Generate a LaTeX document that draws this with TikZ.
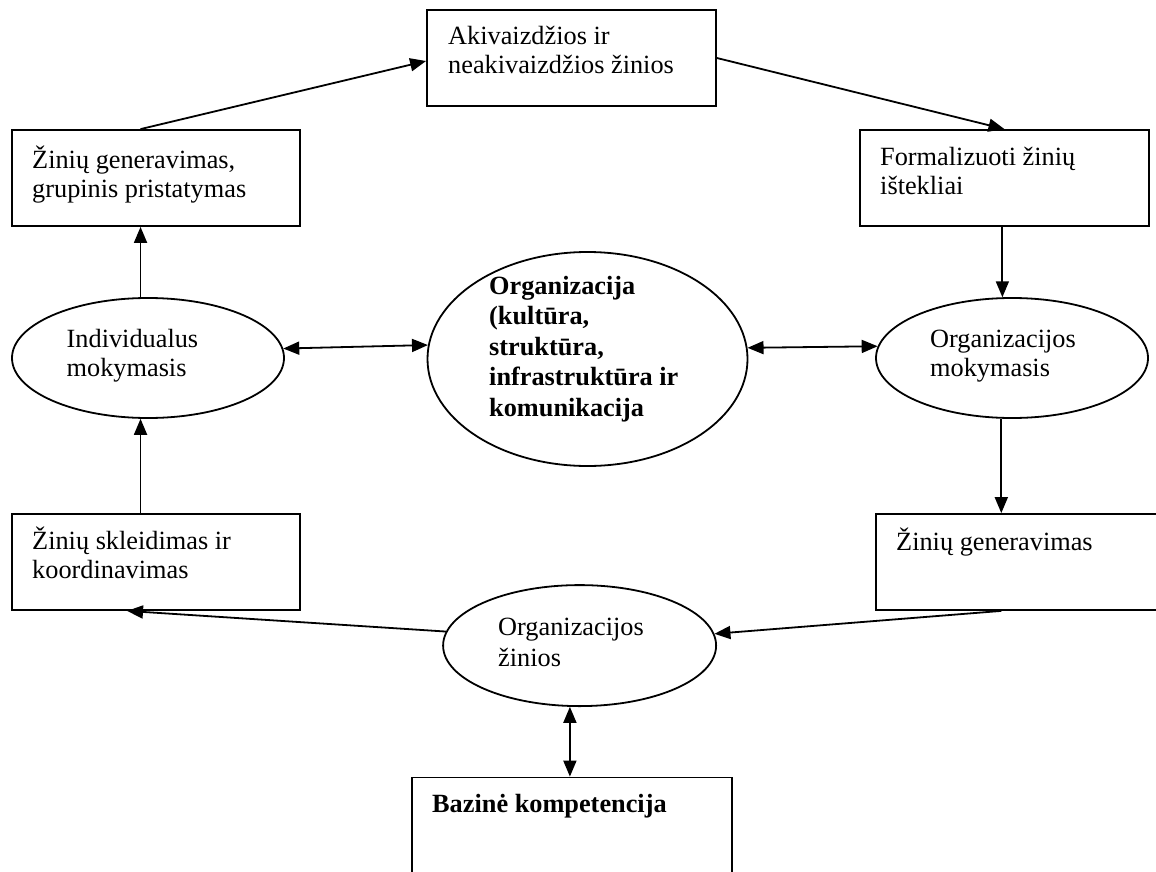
\documentclass[tikz,border=0pt]{standalone}
\usepackage{fontspec}
\setmainfont{Liberation Serif}
\usetikzlibrary{arrows.meta,shapes.geometric,calc}

\tikzset{
  box/.style={draw, line width=1.8pt, rectangle, inner sep=0pt},
  oval/.style={draw, line width=1.8pt, ellipse, inner sep=0pt},
  txt/.style={anchor=base west, inner sep=0pt, font=\fontsize{26.3}{30}\selectfont},
  btxt/.style={txt, font=\fontsize{26.3}{30}\selectfont\bfseries},
  link/.style={line width=1.8pt, -{Triangle[length=16pt,width=13pt]}},
  dlink/.style={line width=1.8pt, {Triangle[length=16pt,width=13pt]}-{Triangle[length=16pt,width=13pt]}}
}

\begin{document}
\begin{tikzpicture}[x=1pt,y=-1pt]
\clip (0,0) rectangle (1156,872);
\fill[white] (0,0) rectangle (1156,872);

% rectangles
\node[box, minimum width=289pt, minimum height=96pt] (tb) at (571.5,58) {};
\node[box, minimum width=288pt, minimum height=96pt] (lt) at (156,178) {};
\node[box, minimum width=289pt, minimum height=96pt] (rt) at (1004.5,178) {};
\node[box, minimum width=288pt, minimum height=96pt] (lb) at (156,562) {};
\node[box, minimum width=289pt, minimum height=96pt] (rb) at (1020.5,562) {};
\node[box, minimum width=320pt, minimum height=140pt] (bx) at (571.7,847.5) {};

% ellipses
\node[oval, minimum width=272pt, minimum height=120pt] (le) at (148,358) {};
\node[oval, minimum width=272pt, minimum height=120pt] (re) at (1012,358) {};
\node[oval, minimum width=320pt, minimum height=214pt] (ce) at (587.5,359) {};
\node[oval, minimum width=273pt, minimum height=121pt] (be) at (579.6,645.6) {};

% texts
\node[txt] (tb1) at (448,45) {Akivaizdžios ir};
\node[txt] (tb2) at (448,74) {neakivaizdžios žinios};
\node[txt] (lt1) at (32,168) {Žinių generavimas,};
\node[txt] (lt2) at (32,197) {grupinis pristatymas};
\node[txt] (rt1) at (880,165) {Formalizuoti žinių};
\node[txt] (rt2) at (880,194) {ištekliai};
\node[txt] (lb1) at (32,549) {Žinių skleidimas ir};
\node[txt] (lb2) at (32,578) {koordinavimas};
\node[txt] (rb1) at (896,550) {Žinių generavimas};
\node[btxt] (bx1) at (432,812.7) {Bazinė kompetencija};
\node[txt] (le1) at (66.5,347) {Individualus};
\node[txt] (le2) at (66.5,376) {mokymasis};
\node[txt] (re1) at (930,347) {Organizacijos};
\node[txt] (re2) at (930,376) {mokymasis};
\node[btxt] (ce1) at (489,294) {Organizacija};
\node[btxt] (ce2) at (489,324.6) {(kultūra,};
\node[btxt] (ce3) at (489,355.2) {struktūra,};
\node[btxt] (ce4) at (489,385.8) {infrastruktūra ir};
\node[btxt] (ce5) at (489,416.4) {komunikacija};
\node[txt] (be1) at (498,635) {Organizacijos};
\node[txt] (be2) at (498,666) {žinios};

% connectors around the cycle
\draw[link] (le.97.6 |- lt.north) -- ($(tb.west)+(0,3)$);
\draw[link] (tb.east) -- (rt.north);
\draw[link] (re.99.5 |- rt.south) -- (re.99.5);
\draw[link] (re.260.5) -- (re.260.5 |- rb.north);
\draw[link] (re.260.5 |- rb.south) -- (be.5);
\draw[link] (be.174.6) -- ($(lb.south west)!0.4!(lb.south east)$);
\draw[link] (le.-97.6 |- lb.north) -- (le.-97.6);
\draw[link] (le.97.6) -- (le.97.6 |- lt.south);

% two-way links
\draw[dlink] (le.4.4) -- (ce.175.9);
\draw[dlink] (ce.4.1) -- (re.175.6);
\draw[dlink] (be.261.5) -- (be.261.5 |- bx.north);
\end{tikzpicture}
\end{document}
